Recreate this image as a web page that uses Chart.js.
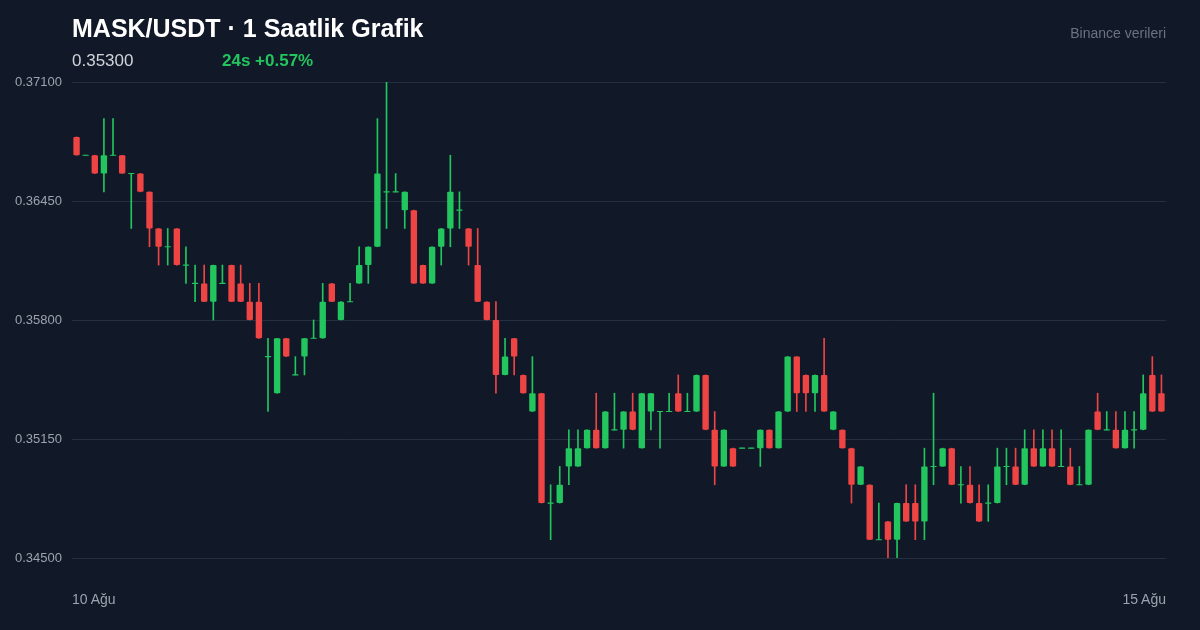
<!DOCTYPE html>
<html>
<head>
<meta charset="utf-8">
<script src="https://cdn.jsdelivr.net/npm/chart.js@4"></script>
<style>
  body { margin: 0; background: #111827; font-family: "Liberation Sans", Arial, sans-serif; }
  #wrap { position: relative; width: 1200px; height: 630px; }
  #chart { position: absolute; left: 0; top: 0; }
  .t { position: absolute; white-space: nowrap; }
</style>
</head>
<body>
<div id="wrap">
  <canvas id="chart" width="1200" height="630"></canvas>
  <div class="t" style="left:72px;top:14px;color:#fff;font-size:25px;font-weight:bold;">MASK/USDT · 1 Saatlik Grafik</div>
  <div class="t" style="left:72px;top:51px;color:#d1d5db;font-size:17px;">0.35300</div>
  <div class="t" style="left:222px;top:51px;color:#22c55e;font-size:17px;font-weight:bold;">24s +0.57%</div>
  <div class="t" style="right:34px;top:25px;color:#6b7280;font-size:14px;">Binance verileri</div>
  <div class="t" style="left:72px;top:591px;color:#9ca3af;font-size:14px;">10 Ağu</div>
  <div class="t" style="right:34px;top:591px;color:#9ca3af;font-size:14px;">15 Ağu</div>
</div>
<script>
// Saatlik mumlar (OHLC)
const opens = [
  0.368,0.367,0.367,0.366,0.367,0.367,0.366,0.366,0.365,0.363,
  0.362,0.363,0.361,0.360,0.360,0.359,0.360,0.361,0.360,0.359,
  0.359,0.356,0.354,0.357,0.355,0.356,0.357,0.357,0.360,0.358,
  0.359,0.360,0.361,0.362,0.365,0.365,0.364,0.364,0.361,0.360,
  0.362,0.363,0.364,0.363,0.361,0.359,0.358,0.355,0.357,0.355,
  0.353,0.354,0.348,0.348,0.350,0.350,0.351,0.352,0.351,0.352,
  0.352,0.353,0.351,0.353,0.353,0.353,0.354,0.353,0.353,0.355,
  0.352,0.350,0.351,0.351,0.351,0.351,0.352,0.351,0.353,0.356,
  0.355,0.354,0.355,0.352,0.352,0.351,0.349,0.349,0.346,0.347,
  0.346,0.348,0.348,0.347,0.350,0.350,0.351,0.349,0.349,0.348,
  0.348,0.348,0.350,0.350,0.349,0.351,0.350,0.351,0.350,0.350,
  0.349,0.349,0.353,0.352,0.352,0.351,0.352,0.352,0.355,0.354
];
const closes = [
  0.367,0.367,0.366,0.367,0.367,0.366,0.366,0.365,0.363,0.362,
  0.362,0.361,0.361,0.360,0.359,0.361,0.360,0.359,0.359,0.358,
  0.357,0.356,0.357,0.356,0.355,0.357,0.357,0.359,0.359,0.359,
  0.359,0.361,0.362,0.366,0.365,0.365,0.365,0.360,0.360,0.362,
  0.363,0.365,0.364,0.362,0.359,0.358,0.355,0.356,0.356,0.354,
  0.354,0.348,0.348,0.349,0.351,0.351,0.352,0.351,0.353,0.352,
  0.353,0.352,0.354,0.354,0.353,0.353,0.353,0.353,0.355,0.352,
  0.350,0.352,0.350,0.351,0.351,0.352,0.351,0.353,0.356,0.354,
  0.354,0.355,0.353,0.353,0.351,0.349,0.350,0.346,0.346,0.346,
  0.348,0.347,0.347,0.350,0.350,0.351,0.349,0.349,0.348,0.347,
  0.348,0.350,0.350,0.349,0.351,0.350,0.351,0.350,0.350,0.349,
  0.349,0.352,0.352,0.352,0.351,0.352,0.352,0.354,0.353,0.353
];
const highs = [
  0.368,0.367,0.367,0.369,0.369,0.367,0.366,0.366,0.365,0.363,
  0.363,0.363,0.362,0.361,0.361,0.361,0.361,0.361,0.361,0.360,
  0.360,0.357,0.357,0.357,0.356,0.357,0.358,0.360,0.360,0.359,
  0.360,0.362,0.362,0.369,0.371,0.366,0.365,0.364,0.361,0.362,
  0.363,0.367,0.365,0.363,0.363,0.359,0.359,0.357,0.357,0.355,
  0.356,0.354,0.349,0.350,0.352,0.352,0.352,0.354,0.353,0.354,
  0.353,0.354,0.354,0.354,0.353,0.354,0.355,0.354,0.355,0.355,
  0.353,0.352,0.351,0.351,0.351,0.352,0.352,0.353,0.356,0.356,
  0.355,0.355,0.357,0.353,0.352,0.351,0.350,0.349,0.348,0.347,
  0.348,0.349,0.349,0.351,0.354,0.351,0.351,0.350,0.350,0.349,
  0.349,0.351,0.351,0.351,0.352,0.352,0.352,0.352,0.352,0.351,
  0.350,0.352,0.354,0.353,0.353,0.353,0.353,0.355,0.356,0.355
];
const lows = [
  0.367,0.367,0.366,0.365,0.367,0.366,0.363,0.365,0.362,0.361,
  0.361,0.361,0.360,0.359,0.359,0.358,0.360,0.359,0.359,0.358,
  0.357,0.353,0.354,0.356,0.355,0.355,0.357,0.357,0.359,0.358,
  0.359,0.360,0.360,0.362,0.363,0.365,0.363,0.360,0.360,0.360,
  0.361,0.362,0.363,0.361,0.359,0.358,0.354,0.355,0.355,0.354,
  0.353,0.348,0.346,0.348,0.349,0.350,0.351,0.351,0.351,0.352,
  0.351,0.352,0.351,0.352,0.351,0.353,0.353,0.353,0.353,0.352,
  0.349,0.350,0.350,0.351,0.351,0.350,0.351,0.351,0.353,0.353,
  0.353,0.353,0.353,0.352,0.351,0.348,0.349,0.346,0.346,0.345,
  0.345,0.347,0.346,0.346,0.349,0.350,0.349,0.348,0.348,0.347,
  0.347,0.348,0.349,0.349,0.349,0.350,0.350,0.350,0.350,0.349,
  0.349,0.349,0.352,0.352,0.351,0.351,0.351,0.352,0.353,0.353
];
const yTicks = [0.345, 0.3515, 0.358, 0.3645, 0.371];

const GREEN = '#22c55e';
const RED = '#ef4444';
const labels = opens.map((_, i) => i);
const colors = opens.map((o, i) => closes[i] >= o ? GREEN : RED);
// doji'ler görünsün diye gövdeye minimum kalınlık
const bodies = opens.map((o, i) => {
  const lo = Math.min(o, closes[i]), hi = Math.max(o, closes[i]);
  return hi - lo < 0.00005 ? [lo - 0.00003, hi + 0.00003] : [lo, hi];
});
const wicks = lows.map((l, i) => [l, highs[i]]);

new Chart(document.getElementById('chart'), {
  type: 'bar',
  data: {
    labels,
    datasets: [
      { data: wicks, backgroundColor: colors, barThickness: 1, grouped: false, order: 2 },
      { data: bodies, backgroundColor: colors, barPercentage: 0.7, categoryPercentage: 1,
        borderRadius: 1, borderSkipped: false, grouped: false, order: 1 }
    ]
  },
  options: {
    responsive: false,
    animation: false,
    layout: { padding: { top: 82, bottom: 72, right: 34, left: 0 } },
    plugins: { legend: { display: false }, tooltip: { enabled: false } },
    scales: {
      x: { display: false, offset: true },
      y: {
        min: 0.345, max: 0.371,
        afterBuildTicks: s => { s.ticks = yTicks.map(v => ({ value: v })); },
        afterFit: s => { s.width = 72; },
        border: { display: false },
        grid: { color: '#243042', drawTicks: false },
        ticks: { color: '#9ca3af', padding: 10, font: { size: 13, family: 'Liberation Sans' },
                 callback: v => v.toFixed(5) }
      }
    }
  }
});
</script>
</body>
</html>
